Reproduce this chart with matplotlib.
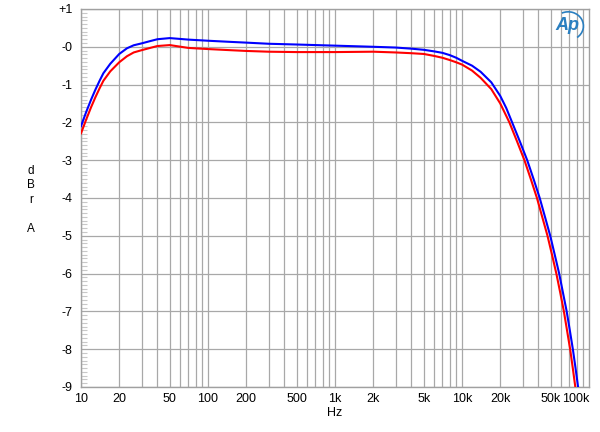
import matplotlib
matplotlib.use("Agg")
import matplotlib.pyplot as plt
from matplotlib.ticker import FixedLocator, NullFormatter, MultipleLocator
from matplotlib.patches import Arc

plt.rcParams['font.family'] = ['Liberation Sans', 'DejaVu Sans']

# frequency response
freq_blue = [10, 11, 12, 13, 14, 15, 17, 20, 23, 26, 30, 35, 40, 50, 70, 100, 150, 200, 300, 500,
             1000, 2000, 3000, 4000, 5000, 6000, 7000, 8000, 9000, 10000, 12000, 14000, 17000,
             20000, 22300, 24800, 28500, 32600, 36600, 40900, 45000, 49500, 53700, 58200,
             62300, 66700, 70600, 74600, 78300, 82000, 84500]
db_blue = [-2.1, -1.72, -1.4, -1.13, -0.9, -0.7, -0.45, -0.19, -0.04, 0.04, 0.09, 0.15, 0.2, 0.23,
           0.19, 0.16, 0.13, 0.11, 0.08, 0.06, 0.03, 0.0, -0.02, -0.05, -0.08, -0.12, -0.16,
           -0.22, -0.29, -0.37, -0.5, -0.66, -0.94, -1.3, -1.62, -2.0, -2.5, -3.0, -3.5,
           -4.0, -4.5, -5.0, -5.5, -6.0, -6.5, -7.0, -7.5, -8.0, -8.5, -9.0, -9.4]

freq_red = [10, 11, 12, 13, 14, 15, 17, 20, 23, 26, 30, 35, 40, 50, 70, 100, 150, 200, 300, 500,
            1000, 2000, 3000, 4000, 5000, 6000, 7000, 8000, 9000, 10000, 12000, 14000, 17000,
            20000, 21800, 23600, 27100, 31000, 34800, 38900, 42800, 47100, 51100, 55300,
            59300, 63400, 67100, 71000, 74500, 78000, 80500]
db_red = [-2.29, -1.92, -1.6, -1.33, -1.1, -0.9, -0.65, -0.41, -0.25, -0.15, -0.09, -0.03, 0.02,
          0.045, -0.03, -0.06, -0.09, -0.11, -0.13, -0.14, -0.14, -0.13, -0.15, -0.17, -0.19,
          -0.24, -0.29, -0.35, -0.41, -0.47, -0.63, -0.82, -1.12, -1.5, -1.76, -2.0, -2.5,
          -3.0, -3.5, -4.0, -4.5, -5.0, -5.5, -6.0, -6.5, -7.0, -7.5, -8.0, -8.5, -9.0, -9.4]

x_ticks = [10, 20, 50, 100, 200, 500, 1000, 2000, 5000, 10000, 20000, 50000, 100000]
x_labels = ['10', '20', '50', '100', '200', '500', '1k', '2k', '5k', '10k', '20k', '50k', '100k']
y_ticks = list(range(-9, 2))
y_labels = ['-9', '-8', '-7', '-6', '-5', '-4', '-3', '-2', '-1', '-0', '+1']

fig = plt.figure(figsize=(6, 4.32), dpi=100)
ax = fig.add_axes([0.135, 0.1042, 0.8467, 0.875])

ax.plot(freq_blue, db_blue, color='#0000ff', lw=1.5, zorder=3)
ax.plot(freq_red, db_red, color='#ff0000', lw=1.5, zorder=3)

ax.set_xscale('log')
ax.set_xlim(10, 100000)
ax.set_ylim(-9, 1)

# grid lines
minor_x = [m * 10 ** d for d in range(1, 5) for m in range(2, 10)]
ax.xaxis.set_major_locator(FixedLocator(x_ticks))
ax.xaxis.set_minor_locator(FixedLocator(minor_x))
ax.xaxis.set_minor_formatter(NullFormatter())
ax.set_xticklabels(x_labels)
# last label pulled in so it stays inside the picture
ax.get_xticklabels()[-1].set_horizontalalignment('right')
for f in [10, 100, 1000, 10000] + minor_x:
    ax.axvline(f, color='#a8a8a8', lw=0.9, zorder=1)
for v in y_ticks:
    ax.axhline(v, color='#a8a8a8', lw=0.9, zorder=1)

ax.set_yticks(y_ticks)
ax.set_yticklabels(y_labels)
ax.yaxis.set_minor_locator(MultipleLocator(0.1))
ax.tick_params(axis='x', which='both', length=0, labelsize=9, pad=4)
ax.tick_params(axis='y', which='major', length=0, labelsize=9, pad=6)
ax.tick_params(axis='y', which='minor', direction='in', length=4, color='#c8c8c8', width=0.8)

for s in ax.spines.values():
    s.set_color('#a0a0a0')
    s.set_linewidth(1.0)

ax.set_xlabel('Hz', fontsize=9, labelpad=2)
fig.text(0.052, 0.537, 'd\nB\nr\n\nA', fontsize=8.5, ha='center', va='center', linespacing=1.3)

# Ap logo
ax.text(0.957, 0.955, 'Ap', transform=ax.transAxes, fontsize=13, style='italic',
        fontweight='bold', color='#2a7fc0', ha='center', va='center', zorder=4)
ax.add_patch(Arc((0.959, 0.955), 0.06, 0.075, theta1=-60, theta2=110,
                 transform=ax.transAxes, color='#2a7fc0', lw=1.2, zorder=4))

fig.savefig('out.png', dpi=100)
